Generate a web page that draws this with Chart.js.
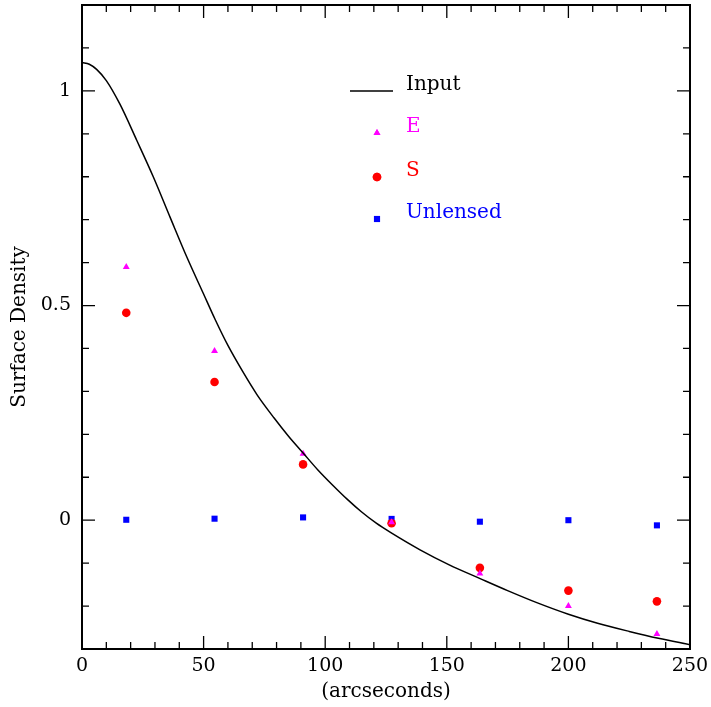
<!DOCTYPE html>
<html>
<head>
<meta charset="utf-8">
<script src="https://cdn.jsdelivr.net/npm/chart.js@4.4.1/dist/chart.umd.min.js"></script>
<style>
html,body{margin:0;padding:0;background:#fff;}
#wrap{width:711px;height:707px;position:relative;}
</style>
</head>
<body>
<div id="wrap"><canvas id="c" width="711" height="707"></canvas></div>
<script>
// ---- data ----
const binX = [18.2, 54.5, 90.9, 127.3, 163.6, 200.0, 236.4];
const eValues = [0.590, 0.394, 0.155, -0.005, -0.124, -0.200, -0.265];
const sValues = [0.483, 0.322, 0.130, -0.007, -0.111, -0.164, -0.189];
const unlensedValues = [0.001, 0.0035, 0.0065, 0.003, -0.0035, 0.000, -0.012];
const inputX = [0, 3, 6, 10, 15.6, 22.5, 29.3, 36.2, 43.1, 49.9, 54.7, 60, 66, 72, 79, 85, 91, 97, 103, 109, 115, 121, 127, 139, 151, 163.7, 175, 187, 200, 212, 225, 237, 250];
const inputY = [1.066, 1.062, 1.050, 1.024, 0.969, 0.885, 0.800, 0.706, 0.613, 0.528, 0.468, 0.407, 0.347, 0.292, 0.238, 0.195, 0.156, 0.117, 0.082, 0.049, 0.019, -0.007, -0.029, -0.069, -0.104, -0.136, -0.164, -0.192, -0.219, -0.240, -0.259, -0.275, -0.290];
const xMajorTicks = [0, 50, 100, 150, 200, 250];
const xMinorTicks = [10,20,30,40,60,70,80,90,110,120,130,140,160,170,180,190,210,220,230,240];
const yMajorTicks = [0, 0.5, 1];
const yMinorTicks = [-0.2,-0.1,0.1,0.2,0.3,0.4,0.6,0.7,0.8,0.9,1.1];
const seriesNames = ['Input', 'E', 'S', 'Unlensed'];
const seriesColors = ['#000000', '#ff00ff', '#ff0000', '#0000ff'];

const FONT = "'DejaVu Serif', serif";

const pts = (xs, ys) => xs.map((x, i) => ({x: x, y: ys[i]}));

const framePlugin = {
  id: 'frame',
  afterDatasetsDraw(chart) {
    const ctx = chart.ctx, a = chart.chartArea, xs = chart.scales.x, ys = chart.scales.y;
    ctx.save();
    ctx.strokeStyle = '#000';
    ctx.lineWidth = 1.3;
    const tick = (px, len, horiz) => {
      ctx.beginPath();
      if (horiz) {
        ctx.moveTo(px, a.bottom); ctx.lineTo(px, a.bottom - len);
        ctx.moveTo(px, a.top); ctx.lineTo(px, a.top + len);
      } else {
        ctx.moveTo(a.left, px); ctx.lineTo(a.left + len, px);
        ctx.moveTo(a.right, px); ctx.lineTo(a.right - len, px);
      }
      ctx.stroke();
    };
    xMajorTicks.forEach(v => tick(xs.getPixelForValue(v), 13, true));
    xMinorTicks.forEach(v => tick(xs.getPixelForValue(v), 7, true));
    yMajorTicks.forEach(v => tick(ys.getPixelForValue(v), 13, false));
    yMinorTicks.forEach(v => tick(ys.getPixelForValue(v), 7, false));
    ctx.lineWidth = 2;
    ctx.strokeRect(a.left, a.top, a.right - a.left, a.bottom - a.top);

    // legend
    const lx = 377, tx = 406, rows = [91, 133, 177, 219];
    ctx.font = "20px " + FONT;
    ctx.textBaseline = 'middle';
    ctx.textAlign = 'left';
    ctx.strokeStyle = seriesColors[0];
    ctx.lineWidth = 1.5;
    ctx.beginPath(); ctx.moveTo(350, rows[0]); ctx.lineTo(393, rows[0]); ctx.stroke();
    const styles = [null, ['triangle', 4], ['circle', 4.3], ['rect', 4.3]];
    for (let i = 0; i < 4; i++) {
      ctx.fillStyle = seriesColors[i];
      ctx.fillText(seriesNames[i], tx, rows[i] - 6);
      if (styles[i]) {
        Chart.helpers.drawPoint(ctx, {pointStyle: styles[i][0], radius: styles[i][1], rotation: 0, borderWidth: 0}, lx, rows[i]);
        ctx.fill();
      }
    }
    ctx.restore();
  }
};

new Chart(document.getElementById('c'), {
  type: 'scatter',
  data: {
    datasets: [
      {label: seriesNames[0], data: pts(inputX, inputY), showLine: true, borderColor: seriesColors[0], borderWidth: 1.5, pointRadius: 0, cubicInterpolationMode: 'monotone', fill: false},
      {label: seriesNames[1], data: pts(binX, eValues), pointStyle: 'triangle', pointRadius: 4, backgroundColor: seriesColors[1], borderColor: seriesColors[1], borderWidth: 0},
      {label: seriesNames[2], data: pts(binX, sValues), pointStyle: 'circle', pointRadius: 4.3, backgroundColor: seriesColors[2], borderColor: seriesColors[2], borderWidth: 0},
      {label: seriesNames[3], data: pts(binX, unlensedValues), pointStyle: 'rect', pointRadius: 4.3, backgroundColor: seriesColors[3], borderColor: seriesColors[3], borderWidth: 0}
    ]
  },
  options: {
    responsive: false,
    animation: false,
    devicePixelRatio: 1,
    layout: {padding: {top: 5, right: 21, bottom: 0, left: 0}},
    plugins: {legend: {display: false}, tooltip: {enabled: false}},
    scales: {
      x: {
        type: 'linear', min: 0, max: 250,
        afterFit(s) { s.height = 58; s.paddingLeft = 0; s.paddingRight = 0; },
        afterBuildTicks(s) { s.ticks = xMajorTicks.map(v => ({value: v})); },
        grid: {display: false, drawTicks: false},
        border: {display: false},
        ticks: {color: '#000', font: {family: FONT, size: 19}, padding: 6, maxRotation: 0, autoSkip: false, callback: v => String(v)},
        title: {display: true, text: '(arcseconds)', color: '#000', font: {family: FONT, size: 20}, padding: {top: 4, bottom: 3}}
      },
      y: {
        type: 'linear', min: -0.3, max: 1.2,
        afterFit(s) { s.width = 82; s.paddingTop = 0; s.paddingBottom = 0; },
        afterBuildTicks(s) { s.ticks = yMajorTicks.map(v => ({value: v})); },
        grid: {display: false, drawTicks: false},
        border: {display: false},
        ticks: {color: '#000', font: {family: FONT, size: 19}, padding: 11, autoSkip: false, callback: v => String(v)},
        title: {display: true, text: 'Surface Density', color: '#000', font: {family: FONT, size: 20}, padding: {top: 8, bottom: 0}}
      }
    }
  },
  plugins: [framePlugin]
});
</script>
</body>
</html>
